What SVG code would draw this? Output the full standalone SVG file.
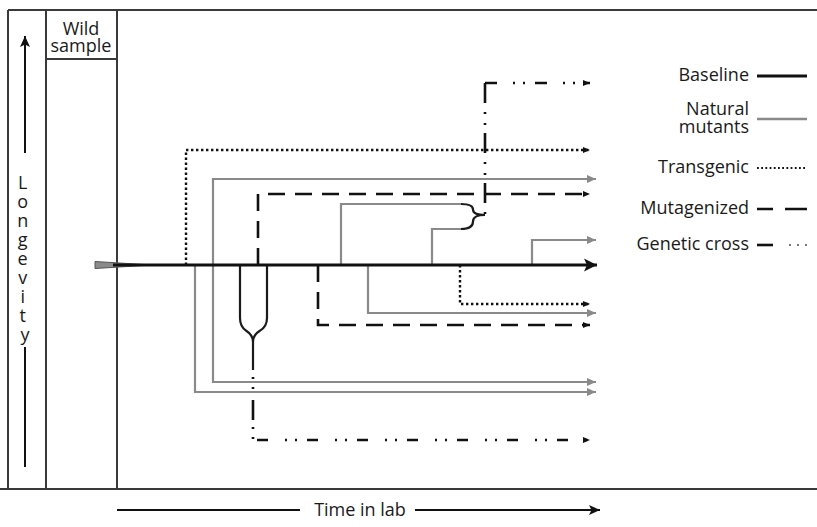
<svg xmlns="http://www.w3.org/2000/svg" width="817" height="527" viewBox="0 0 817 527">
<style>
text{font-family:"Open Sans","Noto Sans","DejaVu Sans",sans-serif;font-size:18px;fill:#1a1a1a}
.frame{stroke:#3a3a3a;stroke-width:2;fill:none}
.ax{stroke:#111;stroke-width:2;fill:none}
.grey{stroke:#8a8a8a;stroke-width:2.2;fill:none}
.blk{stroke:#1a1a1a;stroke-width:2.2;fill:none}
.dot{stroke:#111;stroke-width:2.4;fill:none;stroke-dasharray:2.4 2.6}
.dash{stroke:#111;stroke-width:2.6;fill:none;stroke-dasharray:17 10}
.dd{stroke:#111;stroke-width:2.6;fill:none}
</style>
<defs>
<marker id="ga" markerUnits="userSpaceOnUse" markerWidth="9" markerHeight="8" refX="9" refY="4" orient="auto"><path d="M0,0 L9,4 L0,8 z" fill="#8a8a8a"/></marker>
<marker id="ba" markerUnits="userSpaceOnUse" markerWidth="7" markerHeight="7" refX="7" refY="3.5" orient="auto"><path d="M0,0.5 L7,3.5 L0,6.5 z" fill="#111"/></marker>
<marker id="big" markerUnits="userSpaceOnUse" markerWidth="14" markerHeight="14" refX="13" refY="7" orient="auto"><path d="M0,0.5 L13,7 L0,13.5 L3,7 z" fill="#111"/></marker>
<marker id="ax" markerUnits="userSpaceOnUse" markerWidth="12" markerHeight="12" refX="11" refY="6" orient="auto"><path d="M0,1 L11,6 L0,11 L2.5,6 z" fill="#111"/></marker>
</defs>

<g id="frame">
<path class="frame" d="M8,10 H817 M8,10 V489 M0,489 H817"/>
<path class="frame" d="M46,10 V489 M117,10 V489 M46,59 H117"/>
</g>

<g id="wild-sample">
<text x="81" y="35" text-anchor="middle">Wild</text>
<text x="81" y="52" text-anchor="middle">sample</text>
</g>

<g id="longevity-axis">
<path class="ax" d="M25,153 V36" marker-end="url(#ax)"/>
<path class="ax" d="M25,347 V467"/>
<text text-anchor="middle" font-size="17">
<tspan x="25" y="189">L</tspan>
<tspan x="25" y="208">o</tspan>
<tspan x="25" y="227">n</tspan>
<tspan x="25" y="246">g</tspan>
<tspan x="25" y="265">e</tspan>
<tspan x="25" y="284">v</tspan>
<tspan x="25" y="303">i</tspan>
<tspan x="25" y="322">t</tspan>
<tspan x="25" y="341">y</tspan>
</text>
</g>

<g id="time-axis">
<path class="ax" d="M117,510 H300"/>
<path class="ax" d="M415,510 H600" marker-end="url(#ax)"/>
<text x="360" y="516" text-anchor="middle">Time in lab</text>
</g>

<g id="connectors">
<path class="grey" d="M213,265 V179 H596" marker-end="url(#ga)"/>
<path class="grey" d="M213,265 V382 H596" marker-end="url(#ga)"/>
<path class="grey" d="M195,265 V392 H596" marker-end="url(#ga)"/>
<path class="grey" d="M368,265 V313 H596" marker-end="url(#ga)"/>
<path class="grey" d="M532,265 V240 H596" marker-end="url(#ga)"/>
<path class="grey" d="M341,265 V204 H462"/>
<path class="grey" d="M432,265 V229 H462"/>
<path class="blk" d="M461,204 Q473,204 473,209.5 Q473,215 485,215 M461,229 Q473,229 473,221.5 Q473,215 485,215"/>
<path class="blk" d="M240,266 V318 Q240,327 246.5,331 Q253,335 253,342 M267,266 V318 Q267,327 259.5,331 Q253,335 253,342 M253,342 V370"/>
<path class="dot" d="M186,265 V150 H590" marker-end="url(#ba)"/>
<path class="dot" d="M460,265 V304 H590" marker-end="url(#ba)"/>
<path class="dash" d="M258,265 V194 H590" marker-end="url(#ba)"/>
<path class="dash" d="M318,265 V325 H590" marker-end="url(#ba)"/>
<path class="dd" d="M253,370 V440" stroke-dasharray="20 7 2 8 2 11" stroke-dashoffset="20"/>
<path class="dd" d="M253,440 H590" stroke-dasharray="11 17 2 8 2 10" stroke-dashoffset="46" marker-end="url(#ba)"/>
<path class="dd" d="M485,83 V215" stroke-dasharray="20 9 2 9 2 8"/>
<path class="dd" d="M485,83 H590" stroke-dasharray="12 16 2 8 2 10" marker-end="url(#ba)"/>
<polygon points="95,261.5 95,268.5 152,265" fill="#8a8a8a" stroke="#555" stroke-width="1"/>
<path d="M113,265 H597" stroke="#111" stroke-width="3" fill="none" marker-end="url(#big)"/>
</g>

<g id="legend">
<text x="749" y="81" text-anchor="end">Baseline</text>
<path d="M757,76 H807" stroke="#111" stroke-width="3"/>
<text x="749" y="115" text-anchor="end">Natural</text>
<text x="749" y="133" text-anchor="end">mutants</text>
<path d="M757,119 H807" stroke="#8a8a8a" stroke-width="2.5"/>
<text x="749" y="173" text-anchor="end">Transgenic</text>
<path d="M757,168 H807" stroke="#111" stroke-width="2" stroke-dasharray="1.8 2.4"/>
<text x="749" y="214" text-anchor="end">Mutagenized</text>
<path d="M757,209 H773 M785,209 H807" stroke="#111" stroke-width="2.6"/>
<text x="749" y="250" text-anchor="end">Genetic cross</text>
<path d="M757,245 H773" stroke="#111" stroke-width="2.6"/>
<path d="M789,245 H791 M797,245 H799 M805,245 H807" stroke="#777" stroke-width="2"/>
</g>
</svg>
